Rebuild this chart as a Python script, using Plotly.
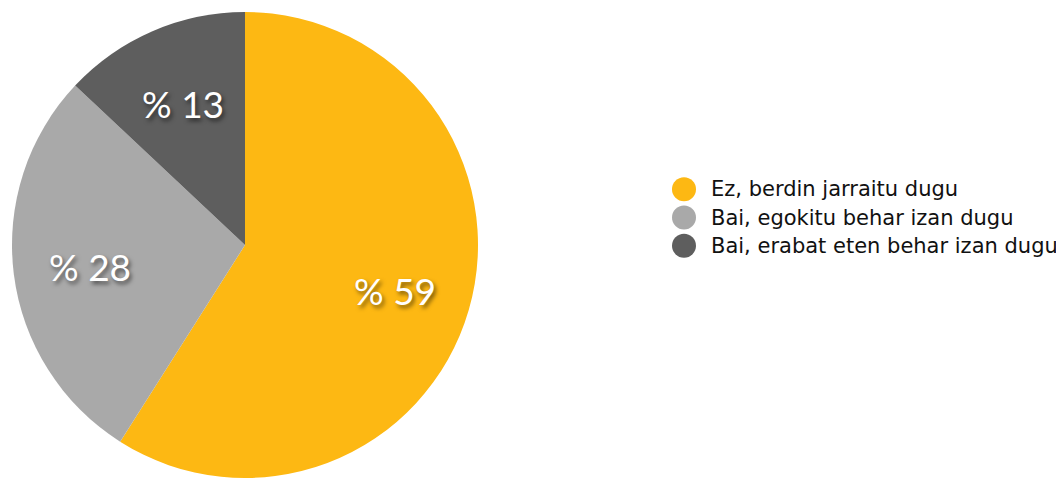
import math
import plotly.graph_objects as go

categories = ["Ez, berdin jarraitu dugu", "Bai, egokitu behar izan dugu", "Bai, erabat eten behar izan dugu"]
values = [59, 28, 13]
colors = ["#FDB813", "#A9A9A9", "#5E5E5E"]

# the page body adds an 8px margin, so the figure is a little smaller than the window
W, H = 1056, 470
T = 4                      # top margin
PH = H - T                 # plot-area height
R = PH / 2                 # pie radius in px
CX, CY = R + 4, R          # pie centre in plot-area px (x from left, y from top)

fig = go.Figure()
fig.add_trace(go.Pie(
    labels=categories,
    values=values,
    sort=False,
    direction="clockwise",
    rotation=0,
    marker=dict(colors=colors, line=dict(width=0)),
    textinfo="none",
    domain=dict(x=[(CX - R) / W, (CX + R) / W], y=[0, 1]),
    hoverinfo="label+percent",
    showlegend=False,
))

# percentage labels, placed along each slice's middle angle
annotations = []
total = sum(values)
cum = 0
for v in values:
    mid = (cum + v / 2) / total * 2 * math.pi
    cum += v
    px = CX + 0.67 * R * math.sin(mid)
    py = CY + 2 - 0.67 * R * math.cos(mid)
    annotations.append(dict(
        x=px / W, y=1 - py / PH, xref="paper", yref="paper",
        text=f"% {v}", showarrow=False, xanchor="center", yanchor="middle",
        font=dict(family="Lato", size=37, color="white",
                  shadow="2px 3px 4px rgba(0,0,0,0.55)"),
    ))

# custom legend with large round markers
fig.add_trace(go.Scatter(
    x=[0] * len(categories),
    y=categories,
    mode="markers",
    marker=dict(size=24, color=colors, line=dict(width=0)),
    cliponaxis=False,
    showlegend=False,
    hoverinfo="skip",
    xaxis="x", yaxis="y",
))
for c in categories:
    annotations.append(dict(
        x=0, y=c, xref="x", yref="y", text=c, showarrow=False,
        xanchor="left", yanchor="middle", xshift=25,
        font=dict(family="DejaVu Sans", size=21, color="#111111"),
    ))

fig.update_layout(
    width=W, height=H,
    margin=dict(l=0, r=0, t=T, b=0),
    paper_bgcolor="white",
    plot_bgcolor="rgba(0,0,0,0)",
    showlegend=False,
    annotations=annotations,
    xaxis=dict(domain=[676 / W, 1], range=[0, 1], visible=False, fixedrange=True),
    yaxis=dict(domain=[0.468, 0.650], range=[2.5, -0.5], visible=False,
               type="category", categoryorder="array", categoryarray=categories,
               fixedrange=True),
)

fig.write_html("out.html")
